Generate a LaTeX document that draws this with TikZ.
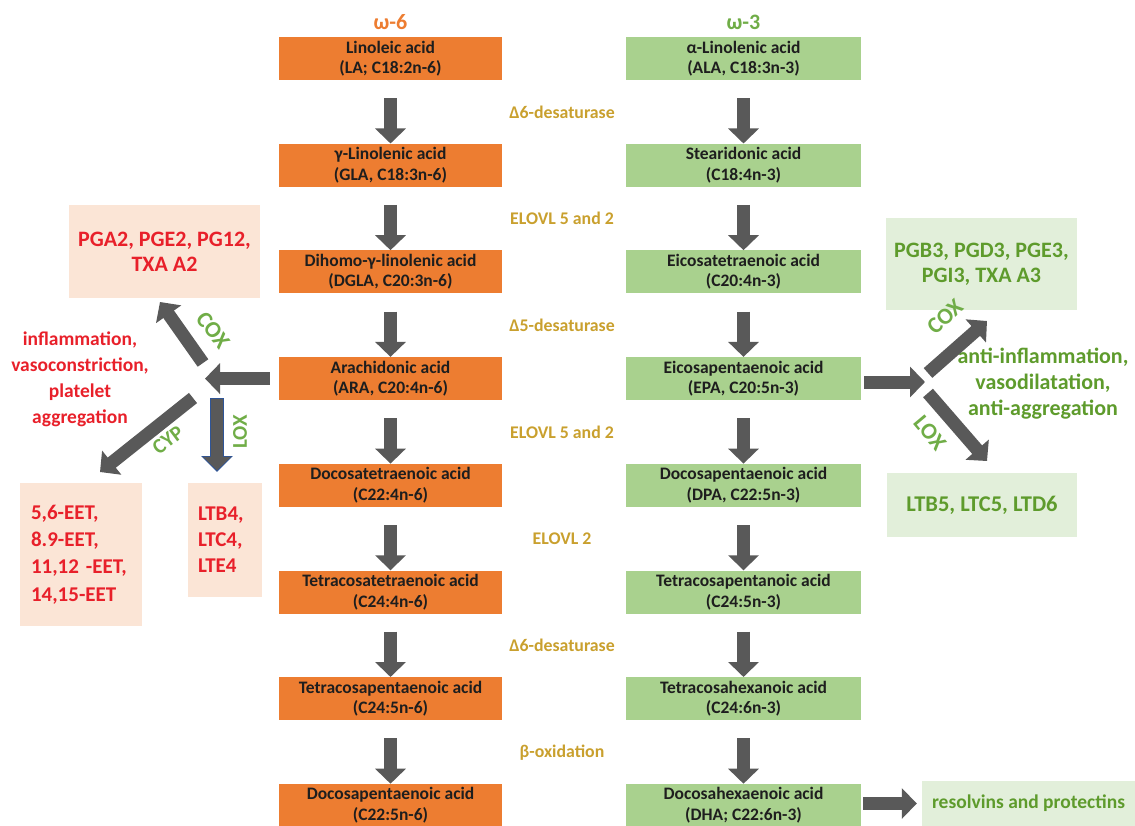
\documentclass[tikz,border=0pt]{standalone}
\usepackage{fontspec}
\setmainfont{Carlito}
\usetikzlibrary{arrows.meta}
\definecolor{orng}{HTML}{ED7D31}
\definecolor{grn}{HTML}{A9D18E}
\definecolor{lgrn}{HTML}{E2EFDA}
\definecolor{peach}{HTML}{FBE5D6}
\definecolor{redc}{HTML}{E8202A}
\definecolor{dgrn}{HTML}{5E9B2C}
\definecolor{mgrn}{HTML}{70AD47}
\definecolor{gold}{HTML}{C9A02E}
\definecolor{agray}{HTML}{595959}
\definecolor{lblue}{HTML}{2F5597}
\definecolor{txtd}{HTML}{1E1E1E}
\tikzset{
  obox/.style={fill=orng, minimum width=223pt, minimum height=43pt, inner sep=0pt,
    align=center, text=txtd, font=\fontsize{17.5}{20.5}\selectfont\bfseries},
  gbox/.style={obox, fill=grn, minimum width=235pt},
  enz/.style={text=gold, font=\fontsize{17.8}{20}\selectfont\bfseries},
  fat/.style={draw=agray, line width=13pt, -{Triangle[width=30pt,length=15pt]}},
  redtxt/.style={text=redc, align=center, font=\fontsize{19.5}{26}\selectfont\bfseries},
  grntxt/.style={text=dgrn, align=center, font=\fontsize{22}{26}\selectfont\bfseries},
  enzlab/.style={text=mgrn, font=\fontsize{23}{26}\selectfont\bfseries},
  prodbox/.style={inner sep=0pt, align=center},
}
\begin{document}
\begin{tikzpicture}[x=1pt,y=-1pt]
\useasboundingbox (0,0) rectangle (1135,826);

% headers
\node[text=orng, font=\fontsize{22}{24}\selectfont\bfseries] (h6) at (390.5,22) {ω-6};
\node[text=mgrn, font=\fontsize{22}{24}\selectfont\bfseries] (h3) at (743.5,22) {ω-3};

% omega-6 column
\node[obox] (o1) at (390.5,58.5) {Linoleic acid\\(LA; C18:2n-6)};
\node[obox] (o2) at (390.5,165.2) {γ-Linolenic acid\\(GLA, C18:3n-6)};
\node[obox] (o3) at (390.5,271.9) {Dihomo-γ-linolenic acid\\(DGLA, C20:3n-6)};
\node[obox] (o4) at (390.5,378.6) {Arachidonic acid\\(ARA, C20:4n-6)};
\node[obox] (o5) at (390.5,485.3) {Docosatetraenoic acid\\(C22:4n-6)};
\node[obox] (o6) at (390.5,592.0) {Tetracosatetraenoic acid\\(C24:4n-6)};
\node[obox] (o7) at (390.5,698.7) {Tetracosapentaenoic acid\\(C24:5n-6)};
\node[obox] (o8) at (390.5,805.4) {Docosapentaenoic acid\\(C22:5n-6)};

% omega-3 column
\node[gbox] (g1) at (743.5,58.5) {α-Linolenic acid\\(ALA, C18:3n-3)};
\node[gbox] (g2) at (743.5,165.2) {Stearidonic acid\\(C18:4n-3)};
\node[gbox] (g3) at (743.5,271.9) {Eicosatetraenoic acid\\(C20:4n-3)};
\node[gbox] (g4) at (743.5,378.6) {Eicosapentaenoic acid\\(EPA, C20:5n-3)};
\node[gbox] (g5) at (743.5,485.3) {Docosapentaenoic acid\\(DPA, C22:5n-3)};
\node[gbox] (g6) at (743.5,592.0) {Tetracosapentanoic acid\\(C24:5n-3)};
\node[gbox] (g7) at (743.5,698.7) {Tetracosahexanoic acid\\(C24:6n-3)};
\node[gbox] (g8) at (743.5,805.4) {Docosahexaenoic acid\\(DHA; C22:6n-3)};

% enzymes
\node[enz] (e1) at (562,112) {Δ6-desaturase};
\node[enz] (e2) at (562,218.7) {ELOVL 5 and 2};
\node[enz] (e3) at (562,325.4) {Δ5-desaturase};
\node[enz] (e4) at (562,432.1) {ELOVL 5 and 2};
\node[enz] (e5) at (562,538.8) {ELOVL 2};
\node[enz] (e6) at (562,645.5) {Δ6-desaturase};
\node[enz] (e7) at (562,752.2) {β-oxidation};

% vertical arrows
\foreach \a/\b in {1/2,2/3,3/4,4/5,5/6,6/7,7/8}{
  \draw[fat, shorten <=18pt] (o\a.south) -- (o\b.north);
  \draw[fat, shorten <=18pt] (g\a.south) -- (g\b.north);
}

% left products
\node[prodbox, fill=peach, minimum width=191pt, minimum height=93pt, text=redc,
  font=\fontsize{22}{25}\selectfont\bfseries] (pga) at (164.5,251.5) {PGA2, PGE2, PG12,\\TXA A2};
\node[redtxt] (infl) at (80,379) {inflammation,\\vasoconstriction,\\platelet\\aggregation};
\node[prodbox, fill=peach, minimum width=122pt, minimum height=143pt, text=redc, align=left,
  text width=100pt, font=\fontsize{21}{27.3}\selectfont\bfseries] (eet) at (81,554.5)
  {5,6-EET,\\8.9-EET,\\11,12 -EET,\\14,15-EET};
\node[prodbox, fill=peach, minimum width=74pt, minimum height=114pt, text=redc, align=left,
  text width=54pt, font=\fontsize{21}{26}\selectfont\bfseries] (ltb4) at (225,540)
  {LTB4,\\LTC4,\\LTE4};

\coordinate (jl) at (205,378.6);
\coordinate (coxLs) at (203,363);
\coordinate (coxLe) at (160,302);
\coordinate (cypLs) at (193,398);
\coordinate (cypLe) at (100,472);
\coordinate (loxLs) at (217,398);
\coordinate (loxLe) at (217,472);

\draw[fat, shorten <=9pt] (o4.west) -- (jl);
\draw[fat] (coxLs) -- (coxLe);
\draw[fat] (cypLs) -- (cypLe);
\draw[draw=lblue, line width=14.5pt, -{Triangle[width=31pt,length=16pt]}] (loxLs) -- (loxLe);
\draw[draw=agray, line width=12pt, -{Triangle[width=27pt,length=13.5pt]}, shorten <=1.25pt, shorten >=1.6pt] (loxLs) -- (loxLe);

\node[enzlab, rotate=-52] (coxL) at (213,330) {COX};
\node[enzlab, rotate=37, font=\fontsize{21}{24}\selectfont\bfseries] (cypL) at (168,440) {CYP};
\node[enzlab, rotate=90, font=\fontsize{21}{24}\selectfont\bfseries] (loxL) at (240,432) {LOX};

% right products
\node[prodbox, fill=lgrn, minimum width=191pt, minimum height=92pt, text=dgrn,
  font=\fontsize{22}{25}\selectfont\bfseries] (pgb) at (981.5,264) {PGB3, PGD3, PGE3,\\PGI3, TXA A3};
\node[prodbox, fill=lgrn, minimum width=190pt, minimum height=64pt, text=dgrn,
  font=\fontsize{22.5}{25}\selectfont\bfseries] (ltb5) at (982,505) {LTB5, LTC5, LTD6};
\node[grntxt] (anti) at (1043,384) {anti-inflammation,\\vasodilatation,\\anti-aggregation};
\node[prodbox, fill=lgrn, minimum width=213pt, minimum height=45pt, text=dgrn,
  font=\fontsize{19.5}{22}\selectfont\bfseries] (res) at (1028.5,803.5) {resolvins and protectins};

\coordinate (jr) at (925,382);
\coordinate (coxRs) at (928,373);
\coordinate (coxRe) at (987,321);
\coordinate (loxRs) at (928,393);
\coordinate (loxRe) at (987,461);

\draw[fat, shorten <=3pt] (g4.east |- jr) -- (jr);
\draw[fat] (coxRs) -- (coxRe);
\draw[fat] (loxRs) -- (loxRe);
\draw[fat, shorten <=2pt, shorten >=5pt] (g8.east |- res.west) -- (res.west);

\node[enzlab, rotate=42] (coxR) at (945,317) {COX};
\node[enzlab, rotate=-50] (loxR) at (930,433) {LOX};
\end{tikzpicture}
\end{document}
